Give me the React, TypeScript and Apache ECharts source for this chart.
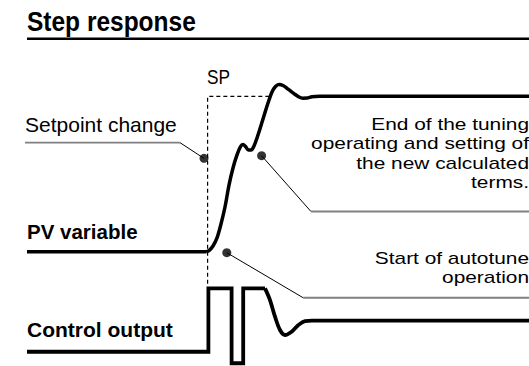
import React, { useEffect, useRef } from 'react';
import * as echarts from 'echarts';

// Axis ranges (time in arbitrary units, PV in % of setpoint, output in % of max)
const timeRange = [-52, 80.25];
const pvRange = [-73.5, 162];
const outputRange = [-22.5, 555];

// Setpoint (dashed)
const setpointLine = [[-0.1, -20.5], [-0.1, 100], [15.75, 100]];

// Process variable
const pvBefore = [[-45.25, 0], [-0.5, 0]];
const pvTransient = [
  [-0.5, 0], [0.25, 0.8], [1.25, 3.7], [2.25, 8.9], [3.25, 17.9], [4.25, 28.8],
  [5.25, 42.9], [6.25, 53.9], [7.25, 62.3], [8.125, 67.7], [8.75, 69.0], [9.375, 67.7],
  [10.125, 65.5], [10.75, 65.5], [11.5, 68.1], [12.5, 75.1], [13.75, 85.4], [15, 95.7],
  [16, 102.8], [16.875, 106.3], [17.75, 107.6], [18.75, 107.0], [20, 104.7], [21.5, 101.8],
  [22.75, 99.6], [23.75, 98.8], [24.75, 98.9], [26, 99.7], [28, 100],
];
const pvSettled = [[28, 100], [80.25, 100]];

// Control output
const outputPulses = [
  [-45.25, 0], [0.1, 0], [0.1, 100], [5.9, 100], [5.9, -18.2], [8.8, -18.2], [8.8, 100], [14.25, 100],
];
const outputDecay = [
  [14.25, 100], [15.5, 81.6], [16.75, 55.3], [18, 34.3], [19.25, 26.4], [20.9, 31.6],
  [22.6, 42.2], [24.25, 48.3], [26, 49],
];
const outputSettled = [[26, 49], [80.25, 49]];

// Annotation leaders (PV axis units)
const setpointLeaderRail = [[-45.75, 70.2], [-7, 70.2]];
const setpointLeaderArm = [[-7, 70.2], [-1, 60.1]];
const tuningEndLeaderArm = [[13.4, 61.8], [25.75, 25.9]];
const tuningEndLeaderRail = [[25.75, 25.9], [80.25, 25.9]];
const autotuneLeaderArm = [[4.7, -0.6], [23.8, -29.6]];
const autotuneLeaderRail = [[23.8, -29.6], [80.25, -29.6]];
const markerDots = [[-1, 60.1], [13.4, 61.8], [4.7, -0.6]];

// Texts
const titleText = 'Step response';
const spText = 'SP';
const setpointChangeText = 'Setpoint change';
const pvLabelText = 'PV variable';
const outputLabelText = 'Control output';
const tuningEndLines = ['End of the tuning', 'operating and setting of', 'the new calculated', 'terms.'];
const autotuneLines = ['Start of autotune', 'operation'];

const FONT = '"Liberation Sans", Arial, Helvetica, sans-serif';

function txt(
  text: string,
  x: number,
  baseline: number,
  size: number,
  opts: { bold?: boolean; align?: string; scaleX?: number } = {}
) {
  const align = opts.align || 'left';
  return {
    type: 'text',
    x,
    y: baseline - 0.3465 * size,
    scaleX: opts.scaleX || 1,
    z: 100,
    silent: true,
    style: {
      text,
      fontSize: size,
      fontFamily: FONT,
      fontWeight: opts.bold ? 'bold' : 'normal',
      fill: '#000',
      align,
      verticalAlign: 'middle',
      textAlign: align,
      textVerticalAlign: 'middle',
    },
  };
}

function lineSeries(data: number[][], yAxisIndex: number, color: string, width: number, extra: any = {}) {
  return {
    type: 'line',
    data,
    yAxisIndex,
    symbol: 'none',
    silent: true,
    clip: false,
    lineStyle: { color, width, join: 'miter', cap: 'butt', ...(extra.lineStyle || {}) },
    smooth: extra.smooth || false,
    z: extra.z || 2,
  };
}

export default function App() {
  const ref = useRef<HTMLDivElement>(null);
  useEffect(() => {
    if (!ref.current) return;
    const chart = echarts.init(ref.current, undefined, { renderer: 'svg' });
    const noteSize = 17.4;
    const noteScale = 1.2;
    const tuningBaselines = [130, 149.5, 169, 188.5];
    const autotuneBaselines = [264, 283.5];
    const option: any = {
      animation: false,
      backgroundColor: '#fff',
      grid: { left: 0, right: 0, top: 0, bottom: 0, containLabel: false },
      xAxis: { type: 'value', min: timeRange[0], max: timeRange[1], show: false },
      yAxis: [
        { type: 'value', min: pvRange[0], max: pvRange[1], show: false },
        { type: 'value', min: outputRange[0], max: outputRange[1], show: false },
      ],
      series: [
        lineSeries(setpointLine, 0, '#000', 1.2, { lineStyle: { type: [4, 3] }, z: 1 }),
        lineSeries(pvBefore, 0, '#000', 3.5),
        lineSeries(pvTransient, 0, '#000', 3.5, { smooth: 0.35 }),
        lineSeries(pvSettled, 0, '#000', 3.5),
        lineSeries(outputPulses, 1, '#000', 3.8),
        lineSeries(outputDecay, 1, '#000', 3.8, { smooth: 0.35 }),
        lineSeries(outputSettled, 1, '#000', 3.8),
        lineSeries(setpointLeaderRail, 0, '#808080', 1.8),
        lineSeries(setpointLeaderArm, 0, '#000', 1),
        lineSeries(tuningEndLeaderArm, 0, '#000', 1),
        lineSeries(tuningEndLeaderRail, 0, '#808080', 1.8),
        lineSeries(autotuneLeaderArm, 0, '#000', 1),
        lineSeries(autotuneLeaderRail, 0, '#808080', 1.8),
        {
          type: 'scatter',
          data: markerDots,
          yAxisIndex: 0,
          symbol: 'circle',
          symbolSize: 9,
          silent: true,
          itemStyle: { color: '#000' },
          z: 5,
        },
      ],
      graphic: [
        txt(titleText, 27, 31, 28.5, { bold: true, scaleX: 0.86 }),
        {
          type: 'line',
          z: 100,
          silent: true,
          shape: { x1: 27, y1: 38.7, x2: 529, y2: 38.7 },
          style: { stroke: '#000', lineWidth: 2.5 },
        },
        txt(spText, 207, 84, 21, { scaleX: 0.82 }),
        txt(setpointChangeText, 25, 132, 21),
        txt(pvLabelText, 27, 238.3, 20.5, { bold: true }),
        txt(outputLabelText, 27, 336.7, 21, { bold: true }),
        ...tuningEndLines.map((l, i) =>
          txt(l, 529, tuningBaselines[i], noteSize, { align: 'right', scaleX: noteScale })
        ),
        ...autotuneLines.map((l, i) =>
          txt(l, 529, autotuneBaselines[i], noteSize, { align: 'right', scaleX: noteScale })
        ),
      ],
    };
    chart.setOption(option);
    return () => chart.dispose();
  }, []);
  return (
    <div
      ref={ref}
      style={{ position: 'absolute', left: 0, top: 0, width: 529, height: 366, background: '#fff' }}
    />
  );
}
